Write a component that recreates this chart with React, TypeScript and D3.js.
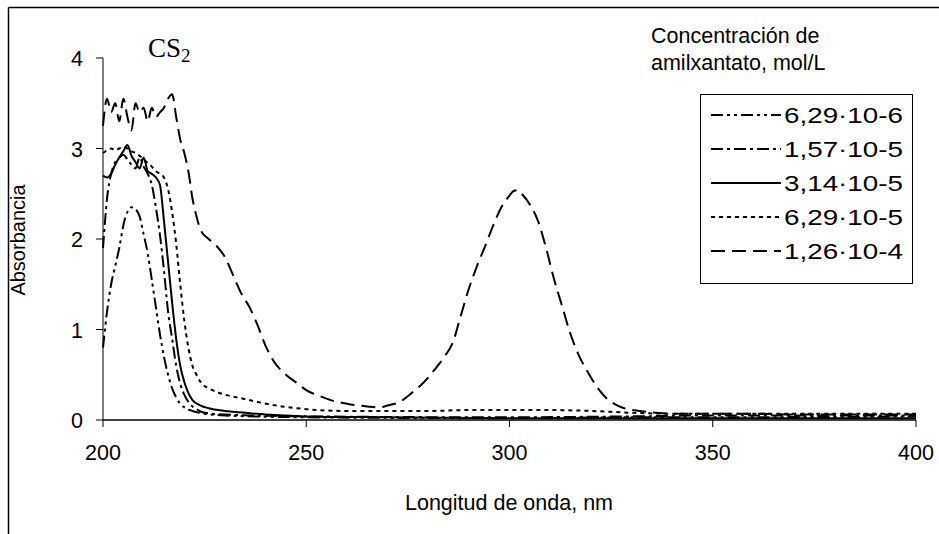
import React from "react";
import * as d3 from "d3";

const W = 939;
const H = 534;

const xTicks = [200, 250, 300, 350, 400];
const yTicks = [0, 1, 2, 3, 4];

const legendTitle = ["Concentración de", "amilxantato, mol/L"];
const seriesNames = ["6,29·10-6", "1,57·10-5", "3,14·10-5", "6,29·10-5", "1,26·10-4"];
const seriesDash = ["12,4,3,4,3,4", "12,4,3,4", "none", "4,4", "14,7"];

// 6,29·10-6
const s1: [number, number][] = [
  [200, 0.8], [201, 1.2], [202, 1.5], [203, 1.7], [204, 1.9], [205, 2.15], [206, 2.3], [207, 2.35],
  [208, 2.33], [209, 2.25], [210, 2.05], [211, 1.84], [212, 1.55], [213, 1.25], [214, 0.95], [215, 0.7],
  [216, 0.5], [217, 0.35], [218, 0.25], [219, 0.18], [220, 0.14], [222, 0.1], [225, 0.07], [230, 0.05],
  [250, 0.03], [300, 0.02], [330, 0.03], [350, 0.03], [400, 0.04],
];
// 1,57·10-5
const s2: [number, number][] = [
  [200, 1.9], [201, 2.45], [202, 2.72], [203, 2.85], [204, 2.9], [205, 2.93], [206, 2.88], [207, 2.82],
  [208, 2.78], [209, 2.9], [210, 2.8], [211, 2.72], [212, 2.6], [213, 2.35], [214, 2.05], [215, 1.65],
  [216, 1.2], [217, 0.9], [218, 0.6], [219, 0.4], [220, 0.28], [221, 0.2], [223, 0.12], [225, 0.08],
  [230, 0.06], [250, 0.04], [300, 0.03], [330, 0.04], [350, 0.05], [400, 0.05],
];
// 3,14·10-5
const s3: [number, number][] = [
  [200, 2.7], [201, 2.68], [202, 2.72], [203, 2.82], [204, 2.9], [205, 2.97], [206, 3.04], [207, 2.92],
  [208, 2.85], [209, 2.78], [210, 2.9], [211, 2.75], [212, 2.72], [213, 2.68], [214, 2.6], [215, 2.2],
  [216, 1.75], [217, 1.3], [218, 0.9], [219, 0.6], [220, 0.42], [221, 0.3], [222, 0.22], [224, 0.16],
  [226, 0.13], [230, 0.1], [235, 0.08], [240, 0.06], [250, 0.04], [270, 0.03], [300, 0.02], [350, 0.02],
  [400, 0.02],
];
// 6,29·10-5
const s4: [number, number][] = [
  [200, 2.95], [201, 2.98], [202, 3.0], [203, 2.98], [204, 3.0], [205, 3.02], [206, 3.0], [207, 2.97],
  [208, 2.95], [209, 2.92], [210, 2.88], [211, 2.84], [212, 2.8], [213, 2.75], [214, 2.72], [215, 2.68],
  [216, 2.55], [217, 2.3], [218, 1.95], [219, 1.5], [220, 1.1], [221, 0.8], [222, 0.6], [223, 0.5],
  [224, 0.42], [226, 0.35], [228, 0.31], [230, 0.28], [234, 0.24], [238, 0.2], [244, 0.15], [250, 0.12],
  [260, 0.1], [270, 0.1], [280, 0.1], [290, 0.11], [300, 0.11], [310, 0.11], [320, 0.1], [330, 0.08],
  [340, 0.07], [360, 0.07], [380, 0.07], [400, 0.07],
];
// 1,26·10-4
const s5: [number, number][] = [
  [200, 3.25], [201, 3.55], [202, 3.4], [203, 3.5], [204, 3.3], [205, 3.55], [206, 3.35], [207, 3.2],
  [208, 3.5], [209, 3.4], [210, 3.45], [211, 3.3], [212, 3.45], [213, 3.35], [214, 3.4], [215, 3.45],
  [216, 3.55], [217, 3.6], [218, 3.35], [219, 3.1], [220, 2.95], [221, 2.75], [222, 2.45], [223, 2.25],
  [224, 2.1], [226, 2.0], [228, 1.92], [230, 1.8], [232, 1.6], [234, 1.4], [236, 1.25], [238, 1.05],
  [240, 0.82], [242, 0.65], [245, 0.5], [248, 0.4], [250, 0.33], [253, 0.27], [256, 0.22], [260, 0.18],
  [265, 0.15], [268, 0.14], [270, 0.16], [273, 0.2], [276, 0.3], [279, 0.42], [282, 0.58], [284, 0.7],
  [286, 0.85], [288, 1.15], [290, 1.45], [292, 1.7], [294, 1.92], [296, 2.15], [298, 2.35], [300, 2.48],
  [301, 2.53], [302, 2.54], [303, 2.5], [305, 2.38], [307, 2.2], [309, 1.9], [311, 1.55], [313, 1.25],
  [315, 0.95], [317, 0.72], [319, 0.55], [321, 0.4], [323, 0.28], [325, 0.2], [327, 0.15], [329, 0.12],
  [332, 0.1], [336, 0.08], [340, 0.07], [350, 0.07], [360, 0.07], [370, 0.06], [380, 0.06], [390, 0.06],
  [400, 0.06],
];
const seriesData = [s1, s2, s3, s4, s5];

export default function App() {
  const x = d3.scaleLinear().domain([200, 400]).range([103, 916]);
  const y = d3.scaleLinear().domain([0, 4]).range([420, 58]);
  const line = d3
    .line<[number, number]>()
    .x((d) => x(d[0]))
    .y((d) => y(d[1]))
    .curve(d3.curveMonotoneX);
  const font = "'Liberation Sans', Arial, sans-serif";
  const fs = 21.5;
  const lgX = 700;
  const lgY = 94;
  const rowY = (i: number) => 115 + i * 34;
  return (
    <div style={{ position: "absolute", left: 0, top: 0 }}>
      <svg width={W} height={H} style={{ display: "block", background: "#fff" }}>
        <rect x={0} y={0} width={W} height={H} fill="#fff" />
        <line x1={8.5} y1={7.5} x2={W} y2={7.5} stroke="#000" strokeWidth={1.5} />
        <line x1={8.5} y1={7.5} x2={8.5} y2={H} stroke="#000" strokeWidth={1.5} />
        {seriesData.map((s, i) => (
          <path
            key={i}
            d={line(s) || ""}
            fill="none"
            stroke="#000"
            strokeWidth={2}
            strokeDasharray={seriesDash[i]}
          />
        ))}
        <line x1={x(200)} y1={y(4)} x2={x(200)} y2={y(0)} stroke="#000" strokeWidth={1} />
        <line x1={x(200)} y1={y(0)} x2={x(400)} y2={y(0)} stroke="#000" strokeWidth={1.5} />
        {yTicks.map((t) => (
          <g key={"y" + t}>
            <line x1={x(200) - 7} x2={x(200)} y1={y(t)} y2={y(t)} stroke="#000" strokeWidth={1} />
            <text x={x(200) - 20} y={y(t) + 8} textAnchor="end" fontFamily={font} fontSize={fs}>
              {t}
            </text>
          </g>
        ))}
        {xTicks.map((t) => (
          <g key={"x" + t}>
            <line x1={x(t)} x2={x(t)} y1={y(0)} y2={y(0) + 7} stroke="#000" strokeWidth={1} />
            <text x={x(t)} y={y(0) + 40} textAnchor="middle" fontFamily={font} fontSize={fs}>
              {t}
            </text>
          </g>
        ))}
        <text x={509} y={510} textAnchor="middle" fontFamily={font} fontSize={fs}>
          Longitud de onda, nm
        </text>
        <text
          transform={`translate(25,240) rotate(-90)`}
          textAnchor="middle"
          fontFamily={font}
          fontSize={20}
        >
          Absorbancia
        </text>
        <text x={148} y={57} fontFamily="'Liberation Serif', 'Times New Roman', serif" fontSize={27}>
          CS<tspan fontSize={19} dy={5}>2</tspan>
        </text>
        {legendTitle.map((t, i) => (
          <text key={t} x={651} y={43 + i * 27} fontFamily={font} fontSize={fs}>
            {t}
          </text>
        ))}
        <rect x={lgX + 0.5} y={lgY + 0.5} width={212} height={189} fill="#fff" stroke="#000" strokeWidth={1} />
        {seriesNames.map((n, i) => (
          <g key={n}>
            <line
              x1={lgX + 11}
              x2={lgX + 81}
              y1={rowY(i)}
              y2={rowY(i)}
              stroke="#000"
              strokeWidth={2}
              strokeDasharray={seriesDash[i]}
            />
            <text
              x={lgX + 84}
              y={rowY(i) + 8}
              textAnchor="start"
              fontFamily={font}
              fontSize={22}
              textLength={119}
              lengthAdjust="spacingAndGlyphs"
            >
              {n}
            </text>
          </g>
        ))}
      </svg>
    </div>
  );
}
